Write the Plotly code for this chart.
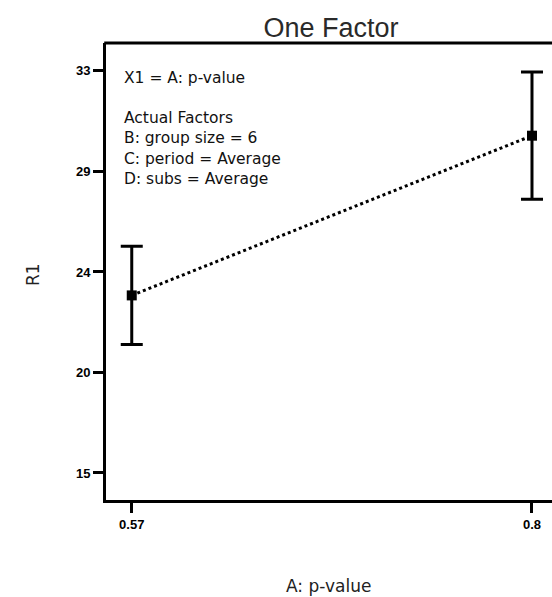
import plotly.graph_objects as go

# Data
p_value = [0.57, 0.8]
r1_mean = [22.95, 30.1]
r1_err = [2.2, 2.85]

x_tickvals = [0.57, 0.8]
x_ticktext = ["0.57", "0.8"]
y_tickvals = [15, 19.5, 24, 28.5, 33]
y_ticktext = ["15", "20", "24", "29", "33"]

info_lines = ["X1 = A: p-value", "", "Actual Factors", "B: group size = 6",
              "C: period = Average", "D: subs = Average"]

W, H = 552, 597
L, R, T, B = 106, 0, 43, 97
pw, ph = W - L - R, H - T - B

def px_x(x):
    return (x - L) / pw

def px_y(y):
    return (H - B - y) / ph

fig = go.Figure()
fig.add_trace(go.Scatter(
    x=p_value, y=r1_mean, mode="lines+markers",
    line=dict(color="black", width=3, dash="dot"),
    marker=dict(symbol="square", size=10, color="black"),
    error_y=dict(type="data", array=r1_err, visible=True,
                 color="black", thickness=3, width=11),
    showlegend=False, hoverinfo="skip"))

axis_font = dict(family="Liberation Sans", size=13, color="black", weight="bold")

fig.update_layout(
    width=W, height=H,
    margin=dict(l=L, r=R, t=T, b=B),
    plot_bgcolor="white", paper_bgcolor="white",
    title=dict(text="One Factor", x=331 / W, xanchor="center", xref="container",
               y=1 - 28 / H, yanchor="middle", yref="container",
               font=dict(family="Liberation Sans", size=27, color="#2a2a2a")),
    xaxis=dict(range=[0.5552, 0.8115], tickvals=x_tickvals, ticktext=x_ticktext,
               showgrid=False, zeroline=False, showline=True, linecolor="black",
               linewidth=3, ticks="outside", ticklen=10, tickwidth=3,
               tickcolor="black", tickfont=axis_font),
    yaxis=dict(range=[13.79, 34.25], tickvals=y_tickvals, ticktext=y_ticktext,
               showgrid=False, zeroline=False, showline=True, linecolor="black",
               linewidth=3, ticks="outside", ticklen=10, tickwidth=3,
               tickcolor="black", tickfont=axis_font),
    shapes=[dict(type="line", xref="paper", yref="paper", x0=-0.004, x1=1.0,
                 y0=1, y1=1, line=dict(color="black", width=3))],
)

fig.add_annotation(text="A: p-value", xref="paper", yref="paper",
                   x=px_x(328), y=px_y(586), xanchor="center", yanchor="middle",
                   showarrow=False,
                   font=dict(family="DejaVu Sans", size=17, color="#222"))
fig.add_annotation(text="R1", xref="paper", yref="paper",
                   x=px_x(33), y=px_y(275), xanchor="center", yanchor="middle",
                   textangle=-90, showarrow=False,
                   font=dict(family="DejaVu Sans", size=17, color="#222"))
fig.add_annotation(text="<br>".join(info_lines), xref="paper", yref="paper",
                   x=px_x(122), y=px_y(67), xanchor="left", yanchor="top",
                   align="left", showarrow=False,
                   font=dict(family="DejaVu Sans", size=15.5, color="#111"))

fig.write_html("out.html")
